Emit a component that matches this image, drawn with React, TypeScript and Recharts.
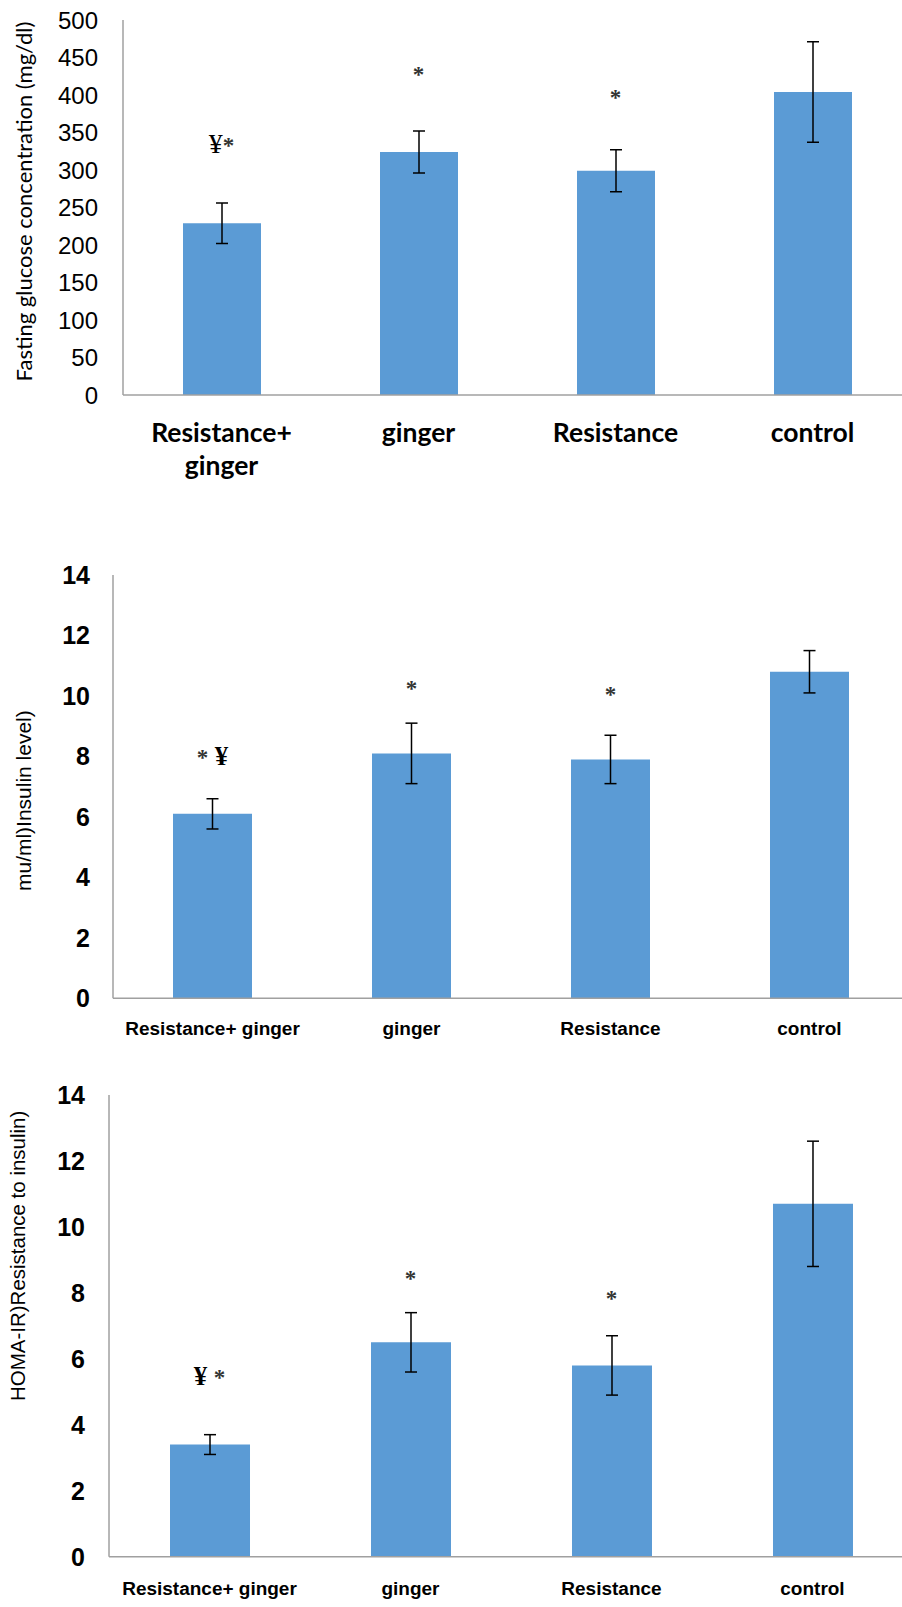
import React from 'react';
import { ComposedChart, Bar, ErrorBar, Scatter, XAxis, YAxis } from 'recharts';

// ---------- data ----------
const categories = ['Resistance+ ginger', 'ginger', 'Resistance', 'control'];

const glucoseMean = [229, 324, 299, 404];
const glucoseErr = [27, 28, 28, 67];
const glucoseMarks = ['¥*', '*', '*', ''];
const glucoseMarkPos = [323, 417, 387, null];
const glucoseTicks = [0, 50, 100, 150, 200, 250, 300, 350, 400, 450, 500];

const insulinMean = [6.1, 8.1, 7.9, 10.8];
const insulinErr = [0.5, 1.0, 0.8, 0.7];
const insulinMarks = ['* ¥', '*', '*', ''];
const insulinMarkPos = [7.7, 10.0, 9.8, null];
const insulinTicks = [0, 2, 4, 6, 8, 10, 12, 14];

const homaMean = [3.4, 6.5, 5.8, 10.7];
const homaErr = [0.3, 0.9, 0.9, 1.9];
const homaMarks = ['¥ *', '*', '*', ''];
const homaMarkPos = [5.2, 8.2, 7.6, null];
const homaTicks = [0, 2, 4, 6, 8, 10, 12, 14];

const BAR_COLOR = '#5B9BD5';
const AXIS_COLOR = '#a0a0a0';

type Cfg = {
  top: number;
  width: number;
  marginTop: number;
  marginRight: number;
  plotH: number;
  xH: number;
  yW: number;
  tickGap: number;
  yMax: number;
  ticks: number[];
  tickFont: any;
  title: string;
  titleFont: any;
  titleX: number;
  titleDy: number;
  xFont: any;
  wrap: boolean;
  xBase: number[];
  barSize: number;
  markBold: boolean;
  yenSize: number;
  mean: number[];
  err: number[];
  marks: string[];
  markPos: (number | null)[];
};

function buildRows(c: Cfg) {
  return categories.map((name, i) => ({
    name,
    value: c.mean[i],
    err: c.err[i],
    mark: c.marks[i],
    markY: c.markPos[i],
  }));
}

function Chart({ c }: { c: Cfg }) {
  const rows = buildRows(c);
  const h = c.marginTop + c.plotH + c.xH + 5;

  const renderTick = (p: any) => {
    const label: string = p.payload.value;
    const lines = c.wrap && label.includes('+ ') ? label.split(/(?<=\+) /) : [label];
    return (
      <g>
        {lines.map((ln, k) => (
          <text
            key={k}
            x={p.x}
            y={p.y + c.xBase[k]}
            textAnchor="middle"
            fill="#000"
            {...c.xFont}
          >
            {ln}
          </text>
        ))}
      </g>
    );
  };

  const renderMark = (p: any) => {
    const m: string = p.payload ? p.payload.mark : '';
    if (!m) return <g />;
    return (
      <text x={p.cx} y={p.cy} textAnchor="middle" fontFamily="Liberation Serif" fontSize={26}>
        {m.split('').map((ch, k) =>
          ch === '¥' ? (
            <tspan key={k} fontWeight={c.markBold ? 'bold' : 'normal'} fill="#000" fontSize={c.yenSize}>
              ¥
            </tspan>
          ) : ch === '*' ? (
            <tspan key={k} fill="#333" fontWeight="bold" fontSize={23}>
              *
            </tspan>
          ) : (
            <tspan key={k}>{'\u00a0'}</tspan>
          )
        )}
      </text>
    );
  };

  const titleY = c.marginTop + c.plotH / 2 + c.titleDy;
  const renderTitle = () => (
    <text
      x={c.titleX}
      y={titleY}
      transform={`rotate(-90 ${c.titleX} ${titleY})`}
      textAnchor="middle"
      dominantBaseline="central"
      fill="#000"
      {...c.titleFont}
    >
      {c.title}
    </text>
  );

  return (
    <div style={{ position: 'absolute', left: 0, top: c.top }}>
      <ComposedChart
        width={c.width}
        height={h}
        data={rows}
        margin={{ top: c.marginTop, right: c.marginRight, bottom: 5, left: 0 }}
      >
        <XAxis
          dataKey="name"
          type="category"
          height={c.xH}
          interval={0}
          tickLine={false}
          tickSize={0}
          tickMargin={0}
          axisLine={{ stroke: AXIS_COLOR, strokeWidth: 1.5 }}
          tick={renderTick}
        />
        <YAxis
          type="number"
          domain={[0, c.yMax]}
          ticks={c.ticks}
          interval={0}
          width={c.yW}
          tickLine={false}
          tickSize={0}
          tickMargin={c.tickGap}
          axisLine={{ stroke: AXIS_COLOR, strokeWidth: 1.5 }}
          tick={{ fill: '#000', ...c.tickFont }}
          label={renderTitle}
        />
        <Bar dataKey="value" fill={BAR_COLOR} barSize={c.barSize} isAnimationActive={false}>
          <ErrorBar dataKey="err" direction="y" width={6} stroke="#000" strokeWidth={1.5} isAnimationActive={false} />
        </Bar>
        <Scatter dataKey="markY" shape={renderMark} isAnimationActive={false} />
      </ComposedChart>
    </div>
  );
}

const chart1: Cfg = {
  top: 0,
  width: 920,
  marginTop: 20,
  marginRight: 9,
  plotH: 375,
  xH: 100,
  yW: 123,
  tickGap: 25,
  yMax: 500,
  ticks: glucoseTicks,
  tickFont: { fontFamily: 'Liberation Sans', fontSize: 24 },
  title: 'Fasting glucose concentration (mg/dl)',
  titleFont: { fontFamily: 'Lato', fontSize: 22 },
  titleX: 23,
  titleDy: -6,
  xFont: { fontFamily: 'Lato', fontSize: 26.5, fontWeight: 'bold' },
  wrap: true,
  xBase: [46.5, 80],
  barSize: 78,
  markBold: false,
  yenSize: 28,
  mean: glucoseMean,
  err: glucoseErr,
  marks: glucoseMarks,
  markPos: glucoseMarkPos,
};

const chart2: Cfg = {
  top: 555,
  width: 920,
  marginTop: 20,
  marginRight: 11,
  plotH: 423.3,
  xH: 45,
  yW: 113,
  tickGap: 23,
  yMax: 14,
  ticks: insulinTicks,
  tickFont: { fontFamily: 'Liberation Sans', fontSize: 25, fontWeight: 'bold' },
  title: 'mu/ml)Insulin level)',
  titleFont: { fontFamily: 'Liberation Sans', fontSize: 21 },
  titleX: 24,
  titleDy: 14,
  xFont: { fontFamily: 'Liberation Sans', fontSize: 19, fontWeight: 'bold' },
  wrap: false,
  xBase: [37],
  barSize: 79,
  markBold: true,
  yenSize: 27,
  mean: insulinMean,
  err: insulinErr,
  marks: insulinMarks,
  markPos: insulinMarkPos,
};

const chart3: Cfg = {
  top: 1075,
  width: 920,
  marginTop: 20,
  marginRight: 7,
  plotH: 461.7,
  xH: 45,
  yW: 109,
  tickGap: 24,
  yMax: 14,
  ticks: homaTicks,
  tickFont: { fontFamily: 'Liberation Sans', fontSize: 25, fontWeight: 'bold' },
  title: 'HOMA-IR)Resistance to insulin)',
  titleFont: { fontFamily: 'Liberation Sans', fontSize: 20.5 },
  titleX: 17.5,
  titleDy: -70,
  xFont: { fontFamily: 'Liberation Sans', fontSize: 19, fontWeight: 'bold' },
  wrap: false,
  xBase: [38],
  barSize: 80,
  markBold: true,
  yenSize: 27,
  mean: homaMean,
  err: homaErr,
  marks: homaMarks,
  markPos: homaMarkPos,
};

export default function App() {
  return (
    <div
      style={{
        position: 'absolute',
        left: 0,
        top: 0,
        width: 902,
        height: 1607,
        overflow: 'hidden',
        background: '#fff',
      }}
    >
      <Chart c={chart1} />
      <Chart c={chart2} />
      <Chart c={chart3} />
    </div>
  );
}
